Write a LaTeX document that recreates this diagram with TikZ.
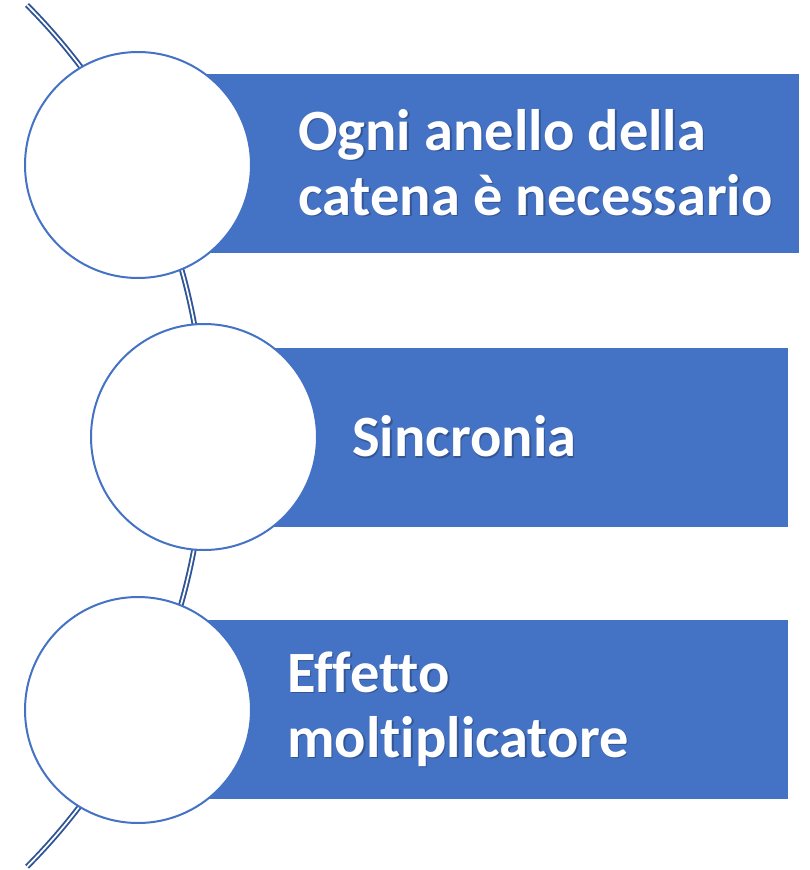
\documentclass[tikz,border=0pt]{standalone}
\usepackage{fontspec}
\setmainfont{Carlito}[Ligatures=CommonOff]
\definecolor{accent}{HTML}{4472C4}
\definecolor{chain}{HTML}{2F5597}
\colorlet{shadowblue}{accent!75!black}
\newcommand{\shd}[1]{\leavevmode\rlap{\kern1.5pt\raisebox{-1.5pt}{\color{shadowblue}#1}}#1}
\begin{document}
\begin{tikzpicture}[
   x=1pt,y=-1pt,
   font=\bfseries\fontsize{58.5}{65}\selectfont,
   link/.style={draw=chain,line width=1.9pt,double=white,double distance=1.7pt},
   band/.style={fill=accent},
   ring/.style={circle,draw=accent,line width=2pt,fill=white,minimum size=226pt,inner sep=0pt},
   label/.style={text=white,anchor=west,align=left,inner sep=0pt}]
\useasboundingbox (0,0) rectangle (810,870);
% the chain behind the rings
\coordinate (top) at (27,5);
\draw[link] (top) arc[start angle=-44.8,end angle=44.8,radius=611.5];
% bands
\fill[band] (138,74) rectangle (799,253);
\fill[band] (204,348) rectangle (788,527);
\fill[band] (138,620) rectangle (788,799);
% rings
\node[ring] (ring1) at (138,165) {};
\node[ring] (ring2) at (204,437) {};
\node[ring] (ring3) at (138,710) {};
% texts
\node[label] (anello) at (298,163) {\shd{Ogni anello della}\\\shd{catena è necessario}};
\node[label] (sincronia) at (352,437) {\shd{Sincronia}};
\node[label] (effetto) at (287,710) {\shd{Effetto}\\\shd{moltiplicatore}};
\end{tikzpicture}
\end{document}
